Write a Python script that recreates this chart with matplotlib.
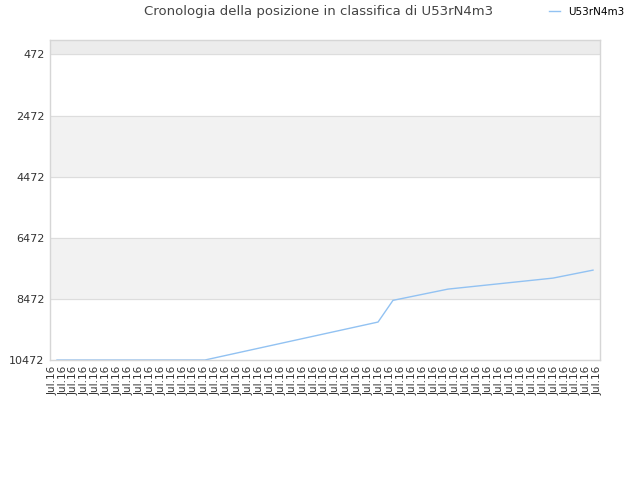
import matplotlib
matplotlib.use('Agg')
import matplotlib.pyplot as plt

plt.rcParams['font.family'] = 'DejaVu Sans'

# dati
labels = ['Jul.16'] * 51
# posizione dei punti (in unità di etichetta) e posizione in classifica
pos = [0.44, 14.0, 29.86, 31.23, 36.27, 45.89, 49.56]
rank = [10472, 10472, 9230, 8520, 8152, 7792, 7531]
yticks = [472, 2472, 4472, 6472, 8472, 10472]
series_name = 'U53rN4m3'

fig = plt.figure(figsize=(6.4, 4.8), dpi=100)
ax = fig.add_axes([50/640, 120/480, 550/640, 320/480])

ax.plot(pos, rank, color='#92c2f2', lw=1, label=series_name)

# fasce alternate
ax.axhspan(0, 472, color='#ececec', zorder=0)
ax.axhspan(2472, 4472, color='#f2f2f2', zorder=0)
ax.axhspan(6472, 8472, color='#f2f2f2', zorder=0)
for t in yticks:
    ax.axhline(t, color='#dddddd', lw=0.8, zorder=0.5)

ax.set_ylim(10472, 0)
ax.set_xlim(-0.2, len(labels) - 1 + 0.2)
ax.set_yticks(yticks)
ax.set_yticklabels([str(t) for t in yticks], fontsize=8, color='#333333')
ax.set_xticks(range(len(labels)))
ax.set_xticklabels(labels, rotation=90, fontsize=7.5, color='#333333')
ax.tick_params(length=0, pad=4)

for s in ax.spines.values():
    s.set_color('#d6d6d6')
    s.set_linewidth(1)

fig.text(0.497, 0.975, 'Cronologia della posizione in classifica di U53rN4m3',
         ha='center', va='center', fontsize=9.5, color='#444444')
ax.legend(loc='center right', bbox_to_anchor=(0.985, 0.975), bbox_transform=fig.transFigure,
          frameon=False, handlelength=1, handletextpad=0.8, fontsize=7.5, borderaxespad=0.2)

fig.savefig('out.png', dpi=100)
